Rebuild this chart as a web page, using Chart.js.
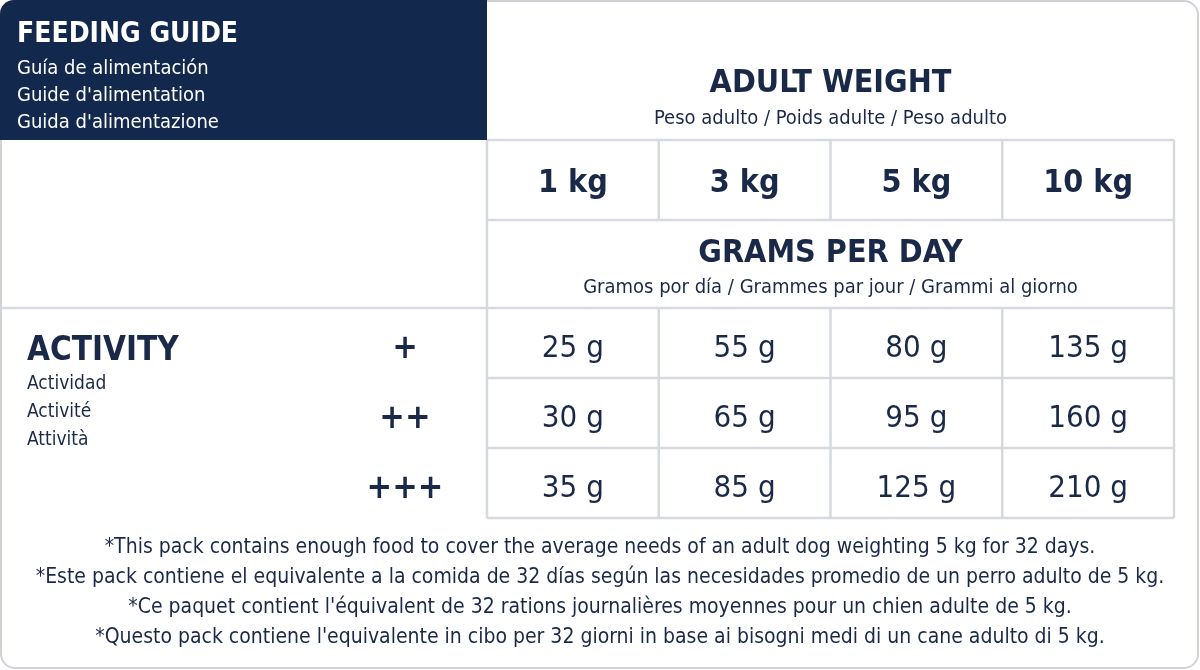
<!DOCTYPE html>
<html>
<head>
<meta charset="utf-8">
<script src="https://cdn.jsdelivr.net/npm/chart.js@4"></script>
<style>
  html, body { margin: 0; padding: 0; background: #fff; }
  canvas { display: block; }
</style>
</head>
<body>
<canvas id="guide" width="1200" height="670"></canvas>
<script>
const weights = ["1 kg", "3 kg", "5 kg", "10 kg"];
const activities = ["+", "++", "+++"];
const gramsLow = [25, 55, 80, 135];
const gramsMid = [30, 65, 95, 160];
const gramsHigh = [35, 85, 125, 210];
const gramRows = [gramsLow, gramsMid, gramsHigh];

const titleLines = ["Guía de alimentación", "Guide d'alimentation", "Guida d'alimentazione"];
const activityLines = ["Actividad", "Activité", "Attività"];
const footnotes = [
  "*This pack contains enough food to cover the average needs of an adult dog weighting 5 kg for 32 days.",
  "*Este pack contiene el equivalente a la comida de 32 días según las necesidades promedio de un perro adulto de 5 kg.",
  "*Ce paquet contient l'équivalent de 32 rations journalières moyennes pour un chien adulte de 5 kg.",
  "*Questo pack contiene l'equivalente in cibo per 32 giorni in base ai bisogni medi di un cane adulto di 5 kg.",
];

const NAVY = "#13284d";
const TEXT = "#1a2947";
const LINE = "#d6dade";
const FONT = '"DejaVu Sans Condensed", "Liberation Sans", sans-serif';

const tablePlugin = {
  id: "feedingTable",
  afterDraw(chart) {
    const { ctx } = chart;
    const x = chart.scales.x;
    const y = chart.scales.y;
    const colW = (x.right - x.left) / weights.length;
    const rowH = (y.bottom - y.top) / activities.length;
    const mid = (x.left + x.right) / 2;

    ctx.save();
    // outer frame
    ctx.strokeStyle = "#cfd3d7";
    ctx.lineWidth = 2;
    ctx.beginPath();
    ctx.roundRect(1, 1, 1197, 667, 14);
    ctx.stroke();

    // header block
    ctx.fillStyle = NAVY;
    ctx.beginPath();
    ctx.roundRect(0, 0, x.left, 140, [14, 0, 0, 0]);
    ctx.fill();
    ctx.fillStyle = "#fff";
    ctx.textBaseline = "alphabetic";
    ctx.textAlign = "left";
    ctx.font = `bold 28px ${FONT}`;
    ctx.fillText("FEEDING GUIDE", 17, 42);
    ctx.font = `20px ${FONT}`;
    titleLines.forEach((t, i) => ctx.fillText(t, 17, 74 + i * 27));

    // grid lines
    ctx.strokeStyle = LINE;
    ctx.lineWidth = 2.5;
    const line = (x1, y1, x2, y2) => {
      ctx.beginPath(); ctx.moveTo(x1, y1); ctx.lineTo(x2, y2); ctx.stroke();
    };
    line(x.left, 140, x.right, 140);
    line(x.left, 220, x.right, 220);
    line(0, y.top, x.right, y.top);
    for (let r = 1; r <= activities.length; r++) line(x.left, y.top + r * rowH, x.right, y.top + r * rowH);
    line(x.left, 140, x.left, y.bottom);
    line(x.right, 140, x.right, y.bottom);
    for (let c = 1; c < weights.length; c++) {
      const cx = x.left + c * colW;
      line(cx, 140, cx, 220);
      line(cx, y.top, cx, y.bottom);
    }

    // headings
    ctx.fillStyle = TEXT;
    ctx.textAlign = "center";
    ctx.font = `bold 32px ${FONT}`;
    ctx.fillText("ADULT WEIGHT", mid, 92);
    ctx.fillText("GRAMS PER DAY", mid, 262);
    ctx.font = `20px ${FONT}`;
    ctx.fillText("Peso adulto / Poids adulte / Peso adulto", mid, 124);
    ctx.fillText("Gramos por día / Grammes par jour / Grammi al giorno", mid, 293);

    ctx.textBaseline = "middle";
    ctx.font = `bold 32px ${FONT}`;
    weights.forEach((w, i) => ctx.fillText(w, x.getPixelForValue(i), 184));

    // activity label
    ctx.textAlign = "left";
    ctx.textBaseline = "alphabetic";
    ctx.font = `bold 33px ${FONT}`;
    ctx.fillText("ACTIVITY", 27, 360);
    ctx.font = `19px ${FONT}`;
    activityLines.forEach((t, i) => ctx.fillText(t, 27, 389 + i * 28));

    ctx.textAlign = "center";
    ctx.textBaseline = "middle";
    activities.forEach((a, r) => {
      const cy = y.getPixelForValue(r);
      ctx.font = `bold 34px ${FONT}`;
      ctx.fillText(a, 405, cy + 6);
      ctx.font = `31px ${FONT}`;
      gramRows[r].forEach((g, c) => ctx.fillText(`${g} g`, x.getPixelForValue(c), cy + 6));
    });

    // footnotes
    ctx.font = `21px ${FONT}`;
    ctx.textBaseline = "alphabetic";
    footnotes.forEach((t, i) => ctx.fillText(t, 600, 553 + i * 30));
    ctx.restore();
  },
};

new Chart(document.getElementById("guide"), {
  type: "bar",
  data: { labels: weights, datasets: [] },
  options: {
    responsive: false,
    animation: false,
    layout: { padding: { left: 487, right: 26, top: 308, bottom: 152 } },
    plugins: { legend: { display: false }, tooltip: { enabled: false } },
    scales: {
      x: { type: "category", labels: weights, offset: true, display: false },
      y: { type: "category", labels: activities, offset: true, display: false },
    },
  },
  plugins: [tablePlugin],
});
</script>
</body>
</html>
